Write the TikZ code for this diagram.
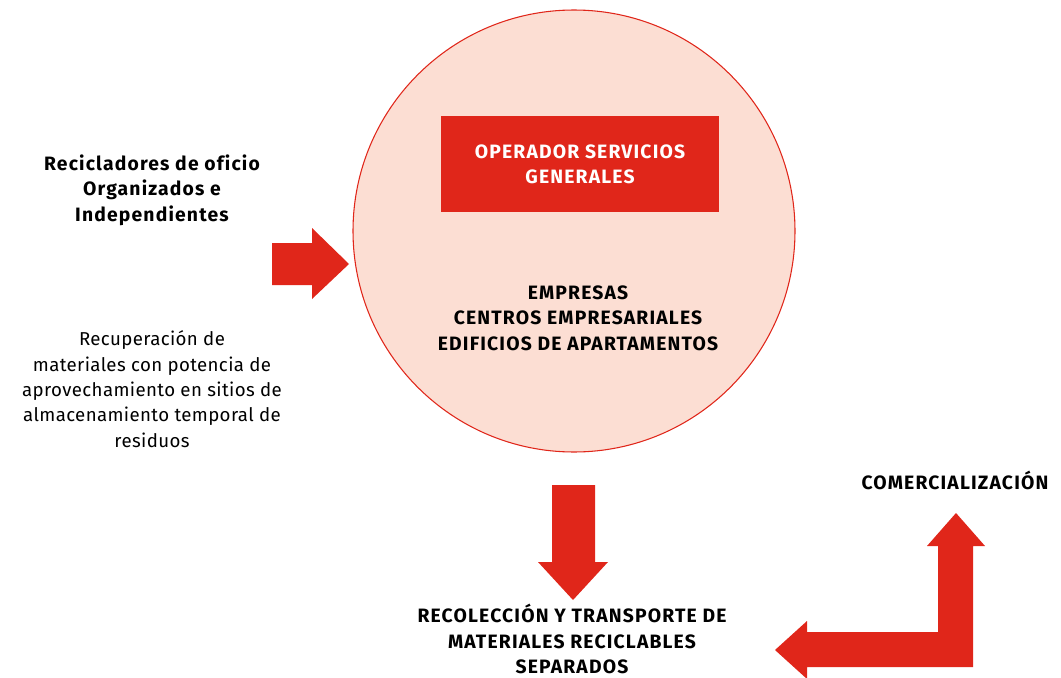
\documentclass[tikz,border=0pt]{standalone}
\usepackage{fontspec}
\setmainfont{Fira Sans}
\newfontfamily\negrita[LetterSpace=6,Ligatures=NoCommon]{Fira Sans Bold}
\newfontfamily\normal[LetterSpace=2,Ligatures=NoCommon]{Fira Sans}
\usetikzlibrary{positioning}
\definecolor{rojo}{HTML}{E0261A}
\definecolor{rosa}{HTML}{FCDED3}

\begin{document}
\begin{tikzpicture}[x=0.75pt, y=-0.75pt,
    lbl/.style={align=center, inner sep=0pt, font=\fontsize{14.5}{19}\negrita},
    txt/.style={align=center, inner sep=0pt, font=\fontsize{14}{19}\normal},
    flecha/.style={fill=rojo, draw=none}]
    \useasboundingbox (0,0) rectangle (1061,678);

    % circulo central
    \node[circle, draw=rojo, fill=rosa, line width=0.8pt, inner sep=0pt,
          minimum size=331.5pt] (circ) at (574,231) {};
    \node[fill=rojo, text=white, minimum width=208.5pt, minimum height=72pt,
          lbl] (oper) at (580,164) {OPERADOR SERVICIOS\\GENERALES};
    \node[lbl] (emp) at (578,318) {EMPRESAS\\CENTROS EMPRESARIALES\\EDIFICIOS DE APARTAMENTOS};

    % textos de la izquierda
    \node[lbl] (recic) at (152,190) {Recicladores de oficio\\Organizados e\\Independientes};
    \node[txt] (recup) at (152,389) {Recuperación de\\materiales con potencia de\\aprovechamiento en sitios de\\almacenamiento temporal de\\residuos};

    % textos de abajo
    \node[lbl] (recol) at (572,639) {RECOLECCIÓN Y TRANSPORTE DE\\MATERIALES RECICLABLES\\SEPARADOS};
    \node[lbl] (comer) at (955,480) {COMERCIALIZACIÓN};

    % flechas
    \fill[flecha] (272,243) -- (312,243) -- (312,228) -- (349,264) -- (312,299)
        -- (312,285) -- (272,285) -- cycle;
    \fill[flecha] (552,485) -- (595,485) -- (595,562) -- (608,562) -- (573,600)
        -- (538,562) -- (552,562) -- cycle;
    \fill[flecha] (973,667) -- (807,667) -- (807,679) -- (775,650) -- (807,621)
        -- (807,632) -- (938,632) -- (938,546) -- (927,546) -- (956,513)
        -- (985,546) -- (973,546) -- cycle;
\end{tikzpicture}
\end{document}
